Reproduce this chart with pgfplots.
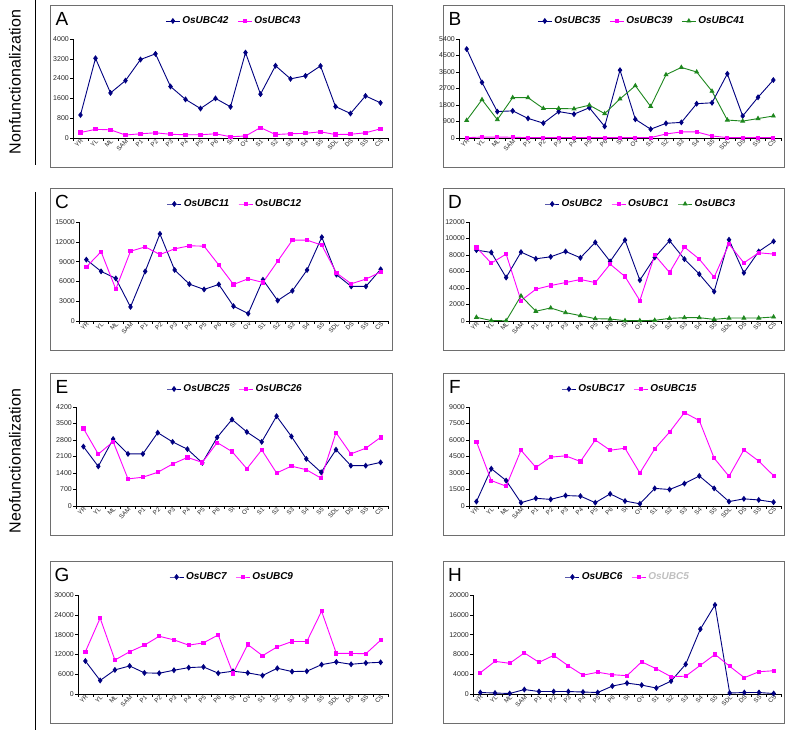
\documentclass[border=0pt]{standalone}
\usepackage{pgfplots}
\usepackage{pgfplotstable}
\usepackage{fontspec}
\setmainfont{Liberation Sans}
\pgfplotsset{compat=1.18}
\definecolor{navyc}{RGB}{0,0,128}
\definecolor{magc}{RGB}{255,0,255}
\definecolor{grnc}{RGB}{30,135,30}
\definecolor{framec}{RGB}{110,110,110}

\pgfplotstableread{
x a42 a43
0 930 220
1 3220 350
2 1820 330
3 2320 120
4 3170 170
5 3400 210
6 2080 150
7 1560 130
8 1190 130
9 1600 170
10 1260 50
11 3450 80
12 1770 420
13 2920 140
14 2390 170
15 2510 190
16 2910 250
17 1270 140
18 990 150
19 1700 210
20 1420 370
}\tabA

\pgfplotstableread{
x b35 b39 b41
0 4850 20 960
1 3030 50 2090
2 1440 50 1000
3 1480 40 2200
4 1070 20 2200
5 810 20 1610
6 1440 20 1610
7 1300 20 1590
8 1650 20 1790
9 630 20 1330
10 3700 20 2130
11 1020 20 2850
12 480 20 1720
13 800 220 3450
14 850 330 3850
15 1870 330 3600
16 1920 110 2550
17 3500 20 980
18 1200 20 920
19 2220 20 1060
20 3160 20 1200
}\tabB

\pgfplotstableread{
x c11 c12
0 9300 8180
1 7520 10500
2 6450 4830
3 2130 10570
4 7520 11230
5 13200 10070
6 7730 10930
7 5590 11390
8 4780 11340
9 5540 8490
10 2240 5540
11 1120 6400
12 6250 5850
13 3100 9050
14 4570 12250
15 7730 12250
16 12700 11490
17 7020 7270
18 5240 5640
19 5240 6350
20 7830 7420
}\tabC

\pgfplotstableread{
x d2 d1 d3
0 8590 8920 450
1 8310 7010 50
2 5270 8110 30
3 8350 2470 3040
4 7540 3850 1180
5 7780 4300 1580
6 8430 4660 1010
7 7660 5030 650
8 9530 4660 280
9 7220 6890 240
10 9810 5390 40
11 4950 2470 40
12 7700 7990 80
13 9730 5880 320
14 7500 8960 400
15 5680 7500 400
16 3570 5310 200
17 9850 9320 360
18 5840 7050 360
19 8430 8270 360
20 9650 8110 490
}\tabD

\pgfplotstableread{
x e25 e26
0 2520 3290
1 1680 2200
2 2840 2730
3 2210 1150
4 2210 1220
5 3110 1430
6 2720 1780
7 2410 2060
8 1830 1850
9 2910 2690
10 3670 2310
11 3140 1580
12 2720 2380
13 3810 1400
14 2950 1690
15 2000 1540
16 1430 1180
17 2390 3110
18 1710 2210
19 1710 2450
20 1850 2910
}\tabE

\pgfplotstableread{
x f17 f15
0 400 5850
1 3390 2310
2 2310 1800
3 300 5070
4 700 3510
5 600 4440
6 950 4560
7 900 4050
8 300 6000
9 1100 5070
10 450 5250
11 200 3000
12 1600 5190
13 1500 6720
14 2040 8490
15 2730 7770
16 1600 4350
17 400 2700
18 650 5100
19 550 4080
20 350 2760
}\tabF

\pgfplotstableread{
x g7 g9
0 10000 12800
1 4100 23000
2 7300 10300
3 8500 12800
4 6400 14800
5 6300 17500
6 7200 16400
7 8000 14800
8 8200 15500
9 6300 17900
10 6900 6200
11 6400 15000
12 5600 11600
13 7800 14300
14 6800 15900
15 6900 15900
16 8900 25100
17 9700 12300
18 9000 12300
19 9400 12200
20 9600 16300
}\tabG

\pgfplotstableread{
x h6 h5
0 300 4300
1 200 6600
2 100 6200
3 900 8300
4 500 6400
5 500 7800
6 500 5700
7 400 3800
8 300 4400
9 1600 3900
10 2200 3700
11 1800 6500
12 1200 5100
13 2600 3500
14 6000 3600
15 13100 5800
16 18000 8000
17 200 5600
18 300 3300
19 300 4500
20 100 4700
}\tabH

\pgfplotsset{
  panel/.style={
    scale only axis, anchor=south west, height=99pt,
    xmin=-0.5, xmax=20.5, ymin=0,
    axis x line*=bottom, axis y line*=left,
    axis line style={-, black, line width=0.6pt},
    tick align=outside,
    major tick length=3pt,
    tick style={black, line width=0.5pt},
    xtick={-0.5,0.5,...,20.5},
    xticklabels={},
    extra x ticks={0,1,...,20},
    extra x tick labels={YR,YL,ML,SAM,P1,P2,P3,P4,P5,P6,St,Ov,S1,S2,S3,S4,S5,SDL,DS,SS,CS},
    extra x tick style={major tick length=0pt,
      xticklabel style={rotate=45, anchor=north east, inner sep=0.3pt,
        font=\fontsize{6.2}{6.5}\selectfont, text=black!85}},
    yticklabel style={font=\fontsize{7}{8}\selectfont, text=black!85, inner sep=1pt,
      /pgf/number format/1000 sep={}, /pgf/number format/assume math mode=true},
    scaled y ticks=false,
    clip=false,
    legend image code/.code={\draw[mark repeat=2,mark phase=2,##1] plot coordinates {(0pt,0pt) (7pt,0pt) (14pt,0pt)};},
  },
  leg/.style={legend style={at={(#1,1)}, anchor=center, yshift=18pt, draw=none, fill=none,
    legend columns=-1, font=\bfseries\itshape\fontsize{10}{12}\selectfont,
    /tikz/every even column/.append style={column sep=7pt}}},
  sNavy/.style={color=navyc, line width=0.9pt, mark=diamond*, mark size=2.3pt, mark options={solid}},
  sMag/.style={color=magc, line width=0.9pt, mark=square*, mark size=1.6pt, mark options={solid}},
  sGrn/.style={color=grnc, line width=0.9pt, mark=triangle*, mark size=2.1pt, mark options={solid}},
}

\begin{document}
\begin{tikzpicture}
\useasboundingbox (0pt,0pt) rectangle (786pt,730pt);

% side labels
\draw[black, line width=0.8pt] (35pt,730pt) -- (35pt,565pt);
\draw[black, line width=0.8pt] (35pt,538pt) -- (35pt,0pt);
\node[rotate=90, font=\fontsize{16}{18}\selectfont] at (15pt,648pt) {Nonfunctionalization};
\node[rotate=90, font=\fontsize{16}{18}\selectfont] at (15pt,269pt) {Neofunctionalization};

% frames
\foreach \yt in {725,542,357,169}{
  \draw[framec, line width=0.8pt] (50pt,\yt pt) rectangle (392pt,\yt pt-162pt);
  \draw[framec, line width=0.8pt] (443pt,\yt pt) rectangle (784pt,\yt pt-162pt);
}
% panel letters
\node[font=\fontsize{19}{20}\selectfont] at (62pt,711.5pt) {A};
\node[font=\fontsize{19}{20}\selectfont] at (455pt,711.5pt) {B};
\node[font=\fontsize{19}{20}\selectfont] at (62pt,528.5pt) {C};
\node[font=\fontsize{19}{20}\selectfont] at (455pt,528.5pt) {D};
\node[font=\fontsize{19}{20}\selectfont] at (62pt,343.5pt) {E};
\node[font=\fontsize{19}{20}\selectfont] at (455pt,343.5pt) {F};
\node[font=\fontsize{19}{20}\selectfont] at (62pt,155.5pt) {G};
\node[font=\fontsize{19}{20}\selectfont] at (455pt,155.5pt) {H};

% A
\begin{axis}[panel, leg=0.511, at={(73pt,592pt)}, width=315pt, ymax=4000, ytick={0,800,...,4000}]
\addplot[sNavy] table[x=x,y=a42]{\tabA}; \addlegendentry{OsUBC42}
\addplot[sMag] table[x=x,y=a43]{\tabA}; \addlegendentry{OsUBC43}
\end{axis}
% B
\begin{axis}[panel, leg=0.568, at={(459pt,592pt)}, width=322pt, ymax=5400, ytick={0,900,...,5400}]
\addplot[sNavy] table[x=x,y=b35]{\tabB}; \addlegendentry{OsUBC35}
\addplot[sMag] table[x=x,y=b39]{\tabB}; \addlegendentry{OsUBC39}
\addplot[sGrn] table[x=x,y=b41]{\tabB}; \addlegendentry{OsUBC41}
\end{axis}
% C
\begin{axis}[panel, leg=0.505, at={(79pt,409pt)}, width=309pt, ymax=15000, ytick={0,3000,...,15000}]
\addplot[sNavy] table[x=x,y=c11]{\tabC}; \addlegendentry{OsUBC11}
\addplot[sMag] table[x=x,y=c12]{\tabC}; \addlegendentry{OsUBC12}
\end{axis}
% D
\begin{axis}[panel, leg=0.551, at={(469pt,409pt)}, width=312pt, ymax=12000, ytick={0,2000,...,12000}]
\addplot[sNavy] table[x=x,y=d2]{\tabD}; \addlegendentry{OsUBC2}
\addplot[sMag] table[x=x,y=d1]{\tabD}; \addlegendentry{OsUBC1}
\addplot[sGrn] table[x=x,y=d3]{\tabD}; \addlegendentry{OsUBC3}
\end{axis}
% E
\begin{axis}[panel, leg=0.51, at={(76pt,224pt)}, width=312pt, ymax=4200, ytick={0,700,...,4200}]
\addplot[sNavy] table[x=x,y=e25]{\tabE}; \addlegendentry{OsUBC25}
\addplot[sMag] table[x=x,y=e26]{\tabE}; \addlegendentry{OsUBC26}
\end{axis}
% F
\begin{axis}[panel, leg=0.516, at={(469pt,224pt)}, width=312pt, ymax=9000, ytick={0,1500,...,9000}]
\addplot[sNavy] table[x=x,y=f17]{\tabF}; \addlegendentry{OsUBC17}
\addplot[sMag] table[x=x,y=f15]{\tabF}; \addlegendentry{OsUBC15}
\end{axis}
% G
\begin{axis}[panel, leg=0.497, at={(78pt,36pt)}, width=310pt, ymax=30000, ytick={0,6000,...,30000}]
\addplot[sNavy] table[x=x,y=g7]{\tabG}; \addlegendentry{OsUBC7}
\addplot[sMag] table[x=x,y=g9]{\tabG}; \addlegendentry{OsUBC9}
\end{axis}
% H
\begin{axis}[panel, leg=0.503, at={(473pt,36pt)}, width=308pt, ymax=20000, ytick={0,4000,...,20000}]
\addplot[sNavy] table[x=x,y=h6]{\tabH}; \addlegendentry{OsUBC6}
\addplot[sMag] table[x=x,y=h5]{\tabH}; \addlegendentry{\textcolor{black!25}{OsUBC5}}
\end{axis}
\end{tikzpicture}
\end{document}
